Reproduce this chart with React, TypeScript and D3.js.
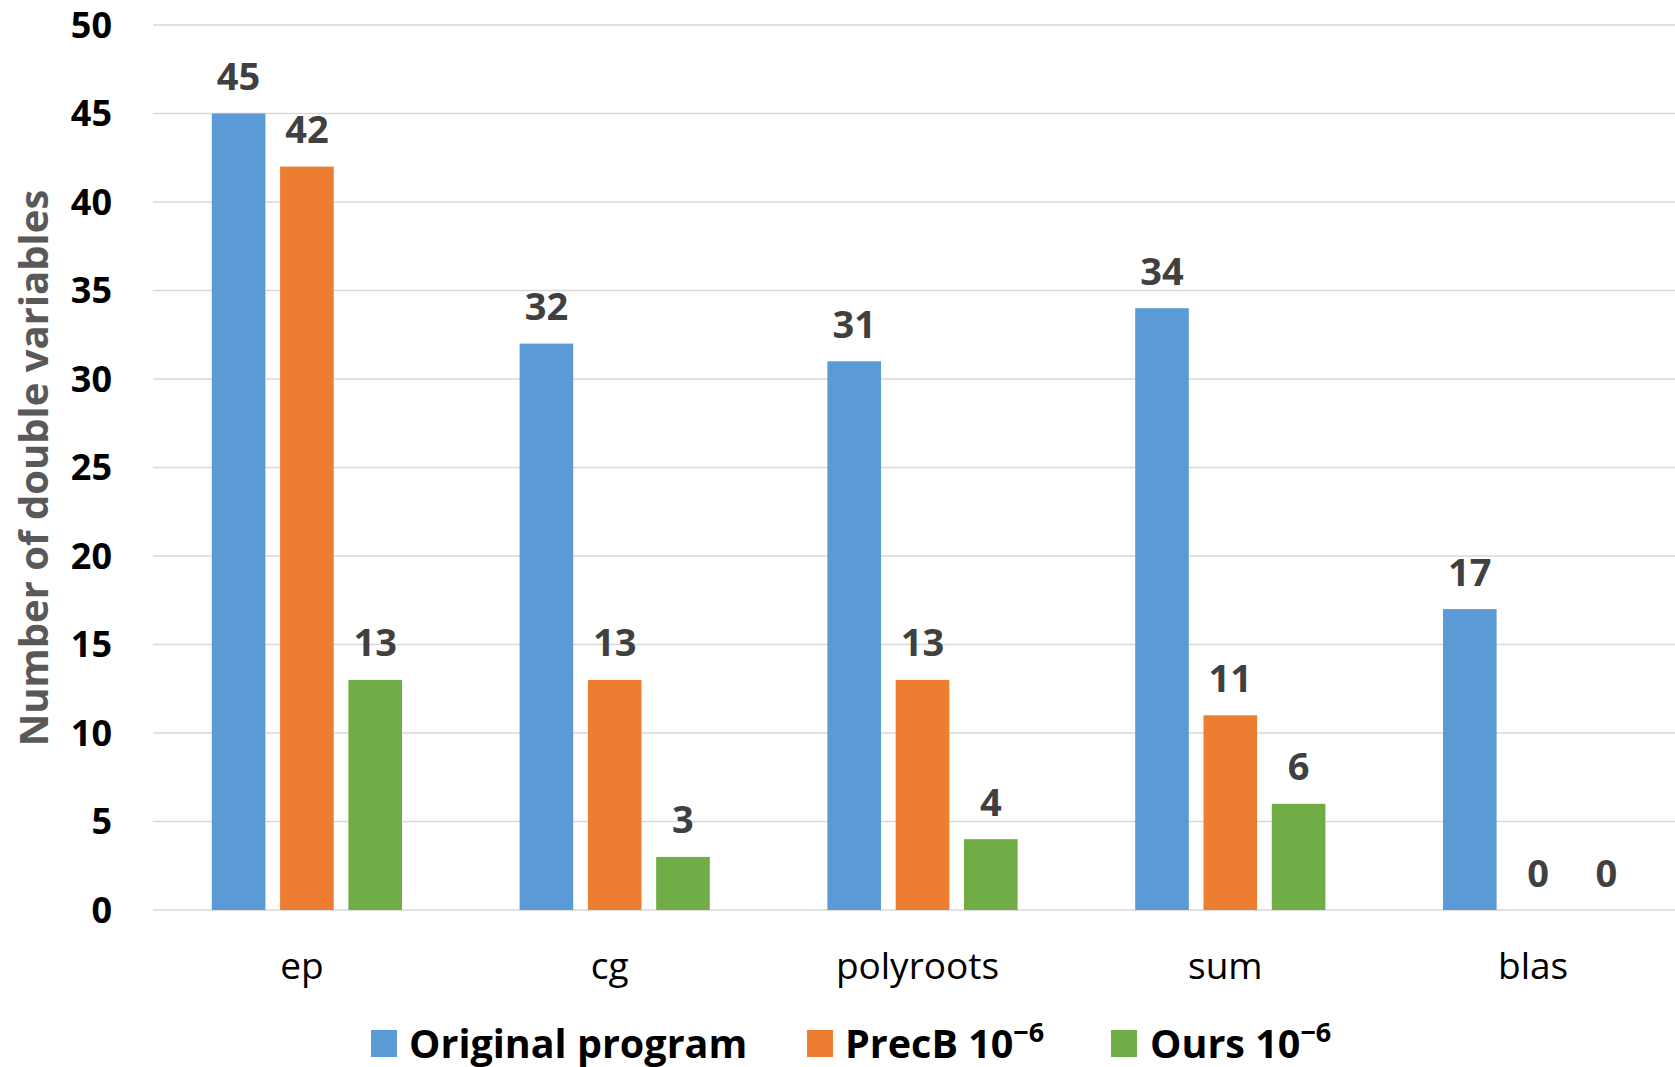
import React from "react";
import * as d3 from "d3";

const categories = ["ep", "cg", "polyroots", "sum", "blas"];
const seriesNames = ["Original program", "PrecB", "Ours"];
const original = [45, 32, 31, 34, 17];
const precB = [42, 13, 13, 11, 0];
const ours = [13, 3, 4, 6, 0];
const yTicks = [0, 5, 10, 15, 20, 25, 30, 35, 40, 45, 50];
const colors = ["#5B9BD5", "#ED7D31", "#70AD47"];

const W = 1675;
const H = 1067;
const FONT = "'Open Sans', 'DejaVu Sans', sans-serif";

export default function App() {
  const series = [original, precB, ours];
  const x0 = d3.scaleBand<string>().domain(categories).range([153, 1692]).paddingInner(0).paddingOuter(0);
  const x1 = d3
    .scaleBand<number>()
    .domain([0, 1, 2])
    .range([58.8, x0.bandwidth() - 58.8])
    .paddingInner(0.215)
    .paddingOuter(0);
  const y = d3.scaleLinear().domain([0, 50]).range([910, 25]);

  const legendItems = [
    { sq: 371, tx: 409, label: seriesNames[0], sup: "" },
    { sq: 807, tx: 845, label: seriesNames[1] + " 10", sup: "\u22126" },
    { sq: 1111, tx: 1150, label: seriesNames[2] + " 10", sup: "\u22126" },
  ];

  return (
    <svg
      width={W}
      height={H}
      style={{ position: "absolute", left: 0, top: 0, background: "#fff" }}
      fontFamily={FONT}
    >
      <rect x={0} y={0} width={W} height={H} fill="#fff" />
      {yTicks.map((t) => (
        <g key={t}>
          <line x1={153} x2={W} y1={y(t)} y2={y(t)} stroke="#D9D9D9" strokeWidth={1.6} />
          <text
            x={112}
            y={y(t)}
            dy="0.36em"
            textAnchor="end"
            fontSize={36}
            fontWeight="bold"
            fill="#000"
          >
            {t}
          </text>
        </g>
      ))}
      {categories.map((c, ci) => (
        <g key={c} transform={`translate(${x0(c)},0)`}>
          {series.map((s, si) => {
            const v = s[ci];
            const bx = x1(si)!;
            const bw = x1.bandwidth();
            return (
              <g key={si}>
                {v > 0 && (
                  <rect x={bx} y={y(v)} width={bw} height={y(0) - y(v)} fill={colors[si]} />
                )}
                <text
                  x={bx + bw / 2}
                  y={y(v) - 23.5}
                  textAnchor="middle"
                  fontSize={38}
                  fontWeight="bold"
                  fill="#404040"
                >
                  {v}
                </text>
              </g>
            );
          })}
          <text
            x={x0.bandwidth() / 2 - 5}
            y={979}
            textAnchor="middle"
            fontSize={37}
            fill="#000"
          >
            {c}
          </text>
        </g>
      ))}
      <text
        transform={`translate(48,468) rotate(-90)`}
        textAnchor="middle"
        fontSize={40}
        fontWeight="bold"
        fill="#595959"
      >
        Number of double variables
      </text>
      {legendItems.map((it, i) => (
        <g key={i}>
          <rect x={it.sq} y={1030} width={26} height={27} fill={colors[i]} />
          <text x={it.tx} y={1058} fontSize={39.5} fontWeight="bold" fill="#000">
            {it.label}
            {it.sup && (
              <tspan dy={-16} fontSize={27}>
                {it.sup}
              </tspan>
            )}
          </text>
        </g>
      ))}
    </svg>
  );
}
